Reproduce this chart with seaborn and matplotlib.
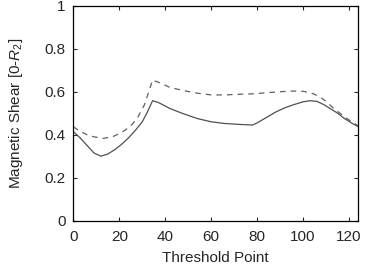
import matplotlib
matplotlib.use("Agg")
import matplotlib.pyplot as plt
import seaborn as sns
import pandas as pd

# значения
solid_x = [0, 3, 6, 9, 12, 15, 18, 21, 24, 27, 30, 32, 34.5, 37, 42, 48, 54, 60,
           66, 72, 78, 80, 84, 88, 92, 96, 100, 103, 106, 109, 112, 115, 118, 121, 124]
solid_y = [0.415, 0.385, 0.35, 0.315, 0.30, 0.31, 0.33, 0.355, 0.385, 0.42, 0.46, 0.50,
           0.558, 0.55, 0.522, 0.497, 0.475, 0.46, 0.452, 0.448, 0.445, 0.455, 0.48,
           0.505, 0.525, 0.54, 0.553, 0.558, 0.555, 0.54, 0.52, 0.50, 0.475, 0.455, 0.437]

dashed_x = [0, 3, 6, 9, 13, 17, 21, 25, 28, 31, 34.5, 38, 42, 48, 54, 60, 66, 72, 78,
            84, 90, 96, 100, 104, 107, 110, 113, 116, 119, 122, 124]
dashed_y = [0.437, 0.415, 0.40, 0.39, 0.383, 0.39, 0.41, 0.44, 0.48, 0.54, 0.654, 0.64,
            0.62, 0.605, 0.593, 0.585, 0.585, 0.588, 0.59, 0.595, 0.60, 0.603, 0.602,
            0.592, 0.578, 0.555, 0.525, 0.50, 0.475, 0.455, 0.44]

x_ticks = [0, 20, 40, 60, 80, 100, 120]
y_ticks = [0, 0.2, 0.4, 0.6, 0.8, 1]

sns.set_style("ticks")
plt.rcParams['font.family'] = ['Liberation Sans', 'DejaVu Sans']
plt.rcParams['mathtext.fontset'] = 'custom'
plt.rcParams['mathtext.rm'] = 'Liberation Sans'
plt.rcParams['mathtext.it'] = 'Liberation Sans:italic'

df_solid = pd.DataFrame({"x": solid_x, "y": solid_y})
df_dashed = pd.DataFrame({"x": dashed_x, "y": dashed_y})

fig = plt.figure(figsize=(3.65, 2.66), dpi=100)
ax = fig.add_axes([0.2008, 0.1703, 0.7808, 0.8083])

sns.lineplot(data=df_solid, x="x", y="y", ax=ax, color="#505050", linewidth=0.9)
sns.lineplot(data=df_dashed, x="x", y="y", ax=ax, color="#606060", linewidth=0.9,
             dashes=False, linestyle=(0, (4.5, 4)))

ax.set_xlim(0, 124)
ax.set_ylim(0, 1)
ax.set_xticks(x_ticks)
ax.set_yticks(y_ticks)
ax.set_yticklabels(["0", "0.2", "0.4", "0.6", "0.8", "1"])
ax.tick_params(direction="in", length=3, width=0.8, top=True, right=True,
               labelsize=11)
ax.tick_params(axis="x", pad=7)
ax.tick_params(axis="y", pad=5.5)
for s in ax.spines.values():
    s.set_linewidth(0.9)
    s.set_color("black")

ax.set_xlabel("Threshold Point", fontsize=11, labelpad=5)
ax.set_ylabel("Magnetic Shear [0-$R_2$]", fontsize=11, labelpad=14)

fig.savefig("out.png", dpi=100)
